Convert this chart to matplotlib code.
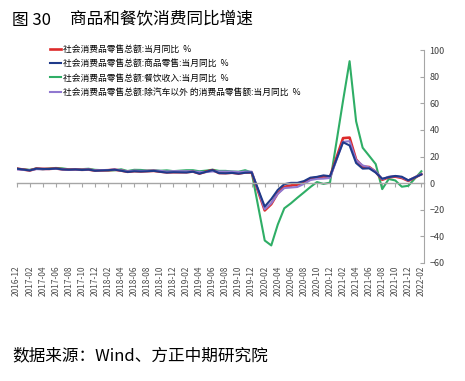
import matplotlib
matplotlib.use("Agg")
import matplotlib.pyplot as plt

plt.rcParams['font.family'] = ['Noto Sans CJK SC', 'DejaVu Sans']

# Data: months (China publishes Jan-Feb combined, so January is absent)
months = ["2016-12"] + [f"{y}-{m:02d}" for y in range(2017, 2022) for m in range(2, 13)] + ["2022-02"]

total = [10.9,
         9.5, 10.9, 10.7, 10.7, 11.0, 10.4, 10.1, 10.3, 10.0, 10.2, 9.4,
         9.7, 10.1, 9.4, 8.5, 9.0, 8.8, 9.0, 9.2, 8.6, 8.1, 8.2,
         8.2, 8.7, 7.2, 8.6, 9.8, 7.6, 7.5, 7.8, 7.2, 8.0, 8.0,
         -20.5, -15.8, -7.5, -2.8, -1.8, -1.1, 0.5, 3.3, 4.3, 5.0, 4.6,
         33.8, 34.2, 17.7, 12.4, 12.1, 8.5, 2.5, 4.4, 4.9, 3.9, 1.7,
         6.7]
goods = [10.9,
         9.5, 10.9, 10.7, 10.6, 11.0, 10.3, 10.1, 10.3, 9.9, 10.2, 9.3,
         9.7, 10.1, 9.3, 8.4, 8.9, 8.7, 8.9, 9.2, 8.5, 7.9, 8.2,
         8.0, 8.6, 7.1, 8.5, 9.8, 7.5, 7.4, 7.7, 7.1, 7.8, 8.0,
         -17.6, -12.0, -5.1, -0.8, 0.2, 0.2, 1.5, 4.1, 4.7, 5.8, 5.2,
         30.7, 28.3, 15.1, 10.9, 11.1, 7.9, 3.3, 4.5, 5.4, 4.8, 2.1,
         6.5]
catering = [10.8,
            10.0, 11.0, 10.4, 11.0, 11.4, 11.1, 10.4, 10.5, 10.5, 10.8, 10.0,
            9.5, 9.6, 10.4, 9.1, 10.0, 9.9, 9.5, 9.7, 9.3, 9.6, 9.0,
            9.7, 9.7, 8.9, 9.4, 10.1, 9.2, 9.2, 8.7, 8.6, 9.7, 8.0,
            -43.1, -46.8, -31.1, -18.9, -15.2, -11.0, -7.0, -2.9, 0.8, -0.6, 0.4,
            62.0, 91.6, 46.4, 26.6, 20.5, 14.3, -4.5, 3.1, 2.0, -2.7, -2.0,
            8.9]
ex_auto = [10.3,
           9.7, 10.5, 10.4, 10.6, 10.8, 10.3, 10.0, 10.2, 10.1, 10.3, 9.6,
           9.8, 10.2, 9.6, 8.8, 9.4, 9.2, 9.3, 9.5, 9.2, 8.7, 9.0,
           8.9, 8.8, 8.4, 8.3, 8.8, 8.8, 8.7, 8.7, 8.3, 8.7, 8.6,
           -19.6, -15.1, -8.0, -3.7, -3.3, -2.9, -0.6, 2.3, 3.2, 3.4, 3.9,
           31.0, 31.5, 17.3, 13.3, 11.8, 8.8, 2.9, 4.8, 5.3, 4.4, 2.0,
           6.8]

labels = ["社会消费品零售总额:当月同比  %",
          "社会消费品零售总额:商品零售:当月同比  %",
          "社会消费品零售总额:餐饮收入:当月同比  %",
          "社会消费品零售总额:除汽车以外 的消费品零售额:当月同比  %"]

# month offset from 2016-12
x = [(int(m[:4]) - 2016) * 12 + int(m[5:]) - 12 for m in months]
tick_pos = list(range(0, 63, 2))
tick_lab = [f"{2016 + (12 + p - 1) // 12}-{(12 + p - 1) % 12 + 1:02d}" for p in tick_pos]

fig = plt.figure(figsize=(4.65, 3.81), dpi=100)
ax = fig.add_axes([16.7 / 465, 1 - 263 / 381, (424 - 16.7) / 465, (263 - 50) / 381])

lw = 1.5
l3, = ax.plot(x, catering, color="#2fae66", lw=lw, solid_joinstyle="round")
l1, = ax.plot(x, total, color="#dd2a2a", lw=lw + 0.4, solid_joinstyle="round")
l4, = ax.plot(x, ex_auto, color="#9078d0", lw=lw, solid_joinstyle="round")
l2, = ax.plot(x, goods, color="#1f3a8a", lw=lw, solid_joinstyle="round")

ax.set_xlim(0, 62.4)
ax.set_ylim(-60, 100)

gray = "#a6a6a6"
for s in ["left", "top"]:
    ax.spines[s].set_visible(False)
ax.spines["right"].set_color(gray)
ax.spines["bottom"].set_position(("data", 0))
ax.spines["bottom"].set_color(gray)
ax.spines["bottom"].set_linewidth(1.0)

ax.set_xticks(tick_pos)
ax.tick_params(axis="x", length=3, color=gray, labelbottom=False)

sec = ax.secondary_xaxis("bottom")
sec.set_xticks(tick_pos, tick_lab, rotation=90, fontsize=6, color="#4d4d4d")
sec.tick_params(length=0, pad=2)
sec.spines["bottom"].set_visible(False)

ax.yaxis.tick_right()
ax.set_yticks(range(-60, 101, 20))
ax.tick_params(axis="y", direction="in", length=3, color=gray, labelsize=6.5,
               labelcolor="#404040", pad=4)

fig.legend([l1, l2, l3, l4], labels, loc="upper left",
           bbox_to_anchor=(50 / 465, 1 - 45 / 381), frameon=False,
           fontsize=6.3, handlelength=1.3, handletextpad=0.2,
           labelspacing=0.6, borderpad=0, borderaxespad=0)

fig.text(12 / 465, 1 - 20 / 381, "图 30", fontsize=12, va="center")
fig.text(70 / 465, 1 - 20 / 381, "商品和餐饮消费同比增速", fontsize=12, va="center")
fig.text(12 / 465, 1 - 356 / 381, "数据来源：Wind、方正中期研究院", fontsize=12,
         va="center", style="italic")

fig.savefig("out.png", dpi=100)
